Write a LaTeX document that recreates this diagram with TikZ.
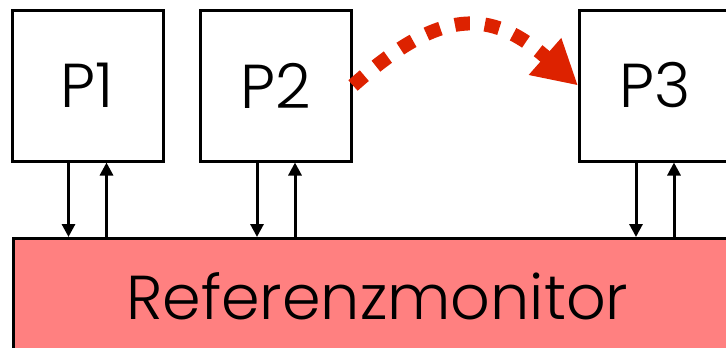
\documentclass[tikz,border=0pt]{standalone}
\usepackage{fontspec}
\setmainfont{Poppins}[UprightFont=* Light]
\usepackage{tikz}
\usetikzlibrary{arrows.meta,positioning,calc}
\definecolor{monred}{HTML}{FF8080}
\definecolor{migred}{HTML}{DD2200}

\begin{document}
\begin{tikzpicture}[x=1pt,y=-1pt,
  proc/.style={draw,line width=3pt,minimum width=151pt,minimum height=151pt,
            inner sep=0pt,font=\fontsize{62}{62}\selectfont},
  monitor/.style={draw,line width=2.5pt,fill=monred,minimum width=728pt,
            minimum height=143pt,inner sep=0pt,text height=19pt,text depth=0pt,
            font=\fontsize{62}{62}\selectfont},
  arr/.style={-{Triangle[length=13pt,width=13pt]},line width=3pt},
  migr/.style={-{Triangle[length=44pt,width=46pt]},line width=14pt,migred,
            dash pattern=on 15pt off 15pt}]
\useasboundingbox (0,0) rectangle (726,348);
\node[proc] (p1) at (87.5,85.5) {P1};
\node[proc] (p2) at (276,85.5) {P2};
\node[proc] (p3) at (655,85.5) {P3};
\node[monitor,anchor=north west] (mon) at (12,237) {Referenzmonitor};
% Anfragen an den Monitor und Antworten
\foreach \p in {p1,p2,p3}{
  \draw[arr] ([xshift=-19pt]\p.south) -- ([xshift=-19pt]\p.south |- mon.north);
  \draw[arr] ([xshift=19pt]\p.south |- mon.north) -- ([xshift=19pt]\p.south);
}
% Migration von P2 nach P3
\draw[migr] (p2.east) .. controls (440,8) and (490,8) .. (p3.west);
\end{tikzpicture}
\end{document}
